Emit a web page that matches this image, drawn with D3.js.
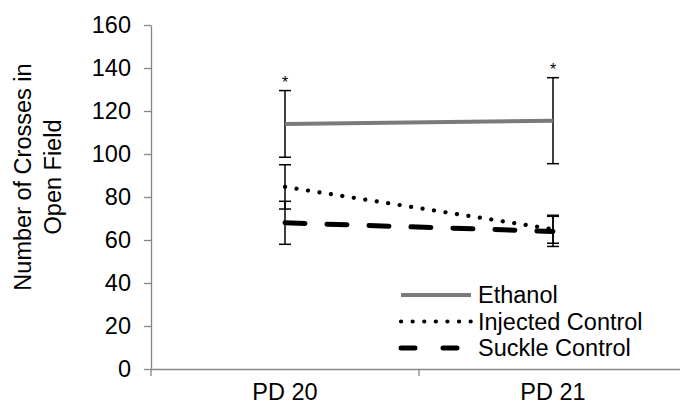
<!DOCTYPE html>
<html>
  <head>
    <meta charset="utf-8">
    <title>Number of Crosses in Open Field</title>
    <script src="https://d3js.org/d3.v7.min.js"></script>
    <style>
      body { margin: 0; background: #fff; }
      text { font-family: "Liberation Sans", Arial, sans-serif; }
    </style>
  </head>
  <body>
    <div id="chart"></div>
    <script>
      // data
      var days = ["PD 20", "PD 21"];
      var ethanol = [114, 115.5];
      var ethanolErr = [15.5, 20];
      var injected = [84.7, 65];
      var injectedErr = [10.3, 6.5];
      var suckle = [68, 64];
      var suckleErr = [10, 7];
      var yTicks = [0, 20, 40, 60, 80, 100, 120, 140, 160];
      var starred = [true, true];

      var width = 680, height = 408;
      var plotLeft = 151, plotRight = 687, plotTop = 25, plotBottom = 369;
      var fs = 23.5;

      var svg = d3.select("#chart").append("svg")
        .attr("width", width)
        .attr("height", height);

      var x = d3.scaleBand().domain(days).range([plotLeft, plotRight]);
      var y = d3.scaleLinear().domain([0, 160]).range([plotBottom, plotTop]);
      var cx = function(d) { return x(d) + x.bandwidth() / 2; };

      // y axis
      var yAxis = svg.append("g")
        .attr("transform", "translate(" + plotLeft + ",0)")
        .call(d3.axisLeft(y).tickValues(yTicks).tickSize(7).tickSizeOuter(0).tickPadding(13));
      yAxis.select(".domain").attr("stroke", "#868686").attr("stroke-width", 1.3);
      yAxis.selectAll(".tick line").attr("stroke", "#868686").attr("stroke-width", 1.3);
      yAxis.selectAll(".tick text").attr("font-size", fs).attr("fill", "#000")
        .attr("font-family", "Liberation Sans, Arial, sans-serif");

      // x axis
      var xAxis = svg.append("g")
        .attr("transform", "translate(0," + plotBottom + ")")
        .call(d3.axisBottom(x).tickSize(0).tickSizeOuter(0).tickPadding(14));
      xAxis.select(".domain").attr("stroke", "#868686").attr("stroke-width", 1.3);
      xAxis.selectAll(".tick text").attr("font-size", fs).attr("fill", "#000")
        .attr("font-family", "Liberation Sans, Arial, sans-serif");
      // category boundary ticks
      svg.selectAll(".xsep")
        .data(days)
        .enter().append("line")
        .attr("x1", function(d) { return x(d); })
        .attr("x2", function(d) { return x(d); })
        .attr("y1", plotBottom)
        .attr("y2", plotBottom + 7)
        .attr("stroke", "#868686")
        .attr("stroke-width", 1.3);

      // y title
      svg.append("text")
        .attr("transform", "translate(31,177) rotate(-90)")
        .attr("text-anchor", "middle")
        .attr("font-size", fs)
        .selectAll("tspan")
        .data(["Number of Crosses in", "Open Field"])
        .enter().append("tspan")
        .attr("x", 0)
        .attr("dy", function(d, i) { return i === 0 ? 0 : 30; })
        .text(function(d) { return d; });

      var series = [
        { name: "Ethanol", vals: ethanol, err: ethanolErr, color: "#7a7a7a", w: 4, dash: null, cap: "butt" },
        { name: "Injected Control", vals: injected, err: injectedErr, color: "#000", w: 4.2, dash: "0.1 11.5", cap: "round" },
        { name: "Suckle Control", vals: suckle, err: suckleErr, color: "#000", w: 5, dash: "20 22", cap: "round" }
      ];

      var line = d3.line()
        .x(function(d, i) { return cx(days[i]); })
        .y(function(d) { return y(d); });

      // error bars
      series.forEach(function(s) {
        var g = svg.append("g");
        s.vals.forEach(function(v, i) {
          var xc = cx(days[i]);
          var lo = y(v - s.err[i]), hi = y(v + s.err[i]);
          g.append("line").attr("x1", xc).attr("x2", xc).attr("y1", lo).attr("y2", hi)
            .attr("stroke", "#000").attr("stroke-width", 1.5);
          [lo, hi].forEach(function(yy) {
            g.append("line").attr("x1", xc - 6).attr("x2", xc + 6).attr("y1", yy).attr("y2", yy)
              .attr("stroke", "#000").attr("stroke-width", 1.5);
          });
        });
      });

      // lines
      series.forEach(function(s) {
        svg.append("path")
          .datum(s.vals)
          .attr("d", line)
          .attr("fill", "none")
          .attr("stroke", s.color)
          .attr("stroke-width", s.w)
          .attr("stroke-linecap", s.cap)
          .attr("stroke-dasharray", s.dash);
      });

      // significance stars
      svg.selectAll(".star")
        .data(days.filter(function(d, i) { return starred[i]; }))
        .enter().append("text")
        .attr("x", function(d) { return cx(d); })
        .attr("y", function(d) {
          var i = days.indexOf(d);
          return y(ethanol[i] + ethanolErr[i]) - 3;
        })
        .attr("text-anchor", "middle")
        .attr("font-size", 16)
        .attr("fill", "#000")
        .text("*");

      // legend
      var legend = svg.append("g").attr("transform", "translate(401,295)");
      series.forEach(function(s, i) {
        var row = legend.append("g").attr("transform", "translate(0," + (i * 26.5) + ")");
        row.append("line")
          .attr("x1", 0).attr("x2", 70).attr("y1", 0).attr("y2", 0)
          .attr("stroke", s.color)
          .attr("stroke-width", s.w)
          .attr("stroke-linecap", s.cap)
          .attr("stroke-dasharray", s.name === "Suckle Control" ? "14 28" : s.dash);
        row.append("text")
          .attr("x", 77).attr("y", 8)
          .attr("font-size", fs)
          .text(s.name);
      });
    </script>
  </body>
</html>
